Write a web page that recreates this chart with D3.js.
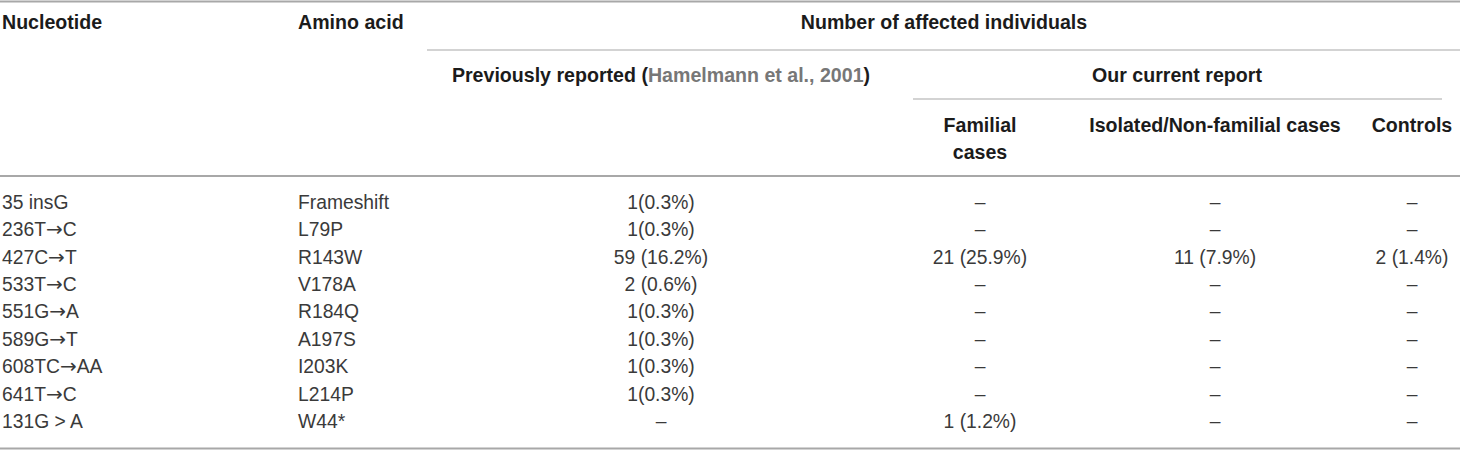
<!DOCTYPE html>
<html>
<head>
<meta charset="utf-8">
<script src="https://cdn.jsdelivr.net/npm/d3@7"></script>
<style>
    html, body { margin: 0; padding: 0; background: #fff; }
</style>
</head>
<body>
<div id="chartContainer"></div>
<script>
const nucleotides = ['35 insG', '236T→C', '427C→T', '533T→C', '551G→A', '589G→T', '608TC→AA', '641T→C', '131G > A'];
const aminoAcids = ['Frameshift', 'L79P', 'R143W', 'V178A', 'R184Q', 'A197S', 'I203K', 'L214P', 'W44*'];
const previouslyReported = ['1(0.3%)', '1(0.3%)', '59 (16.2%)', '2 (0.6%)', '1(0.3%)', '1(0.3%)', '1(0.3%)', '1(0.3%)', '–'];
const familialCases = ['–', '–', '21 (25.9%)', '–', '–', '–', '–', '–', '1 (1.2%)'];
const isolatedCases = ['–', '–', '11 (7.9%)', '–', '–', '–', '–', '–', '–'];
const controls = ['–', '–', '2 (1.4%)', '–', '–', '–', '–', '–', '–'];

const width = 1460;
const height = 451;

const font = '"Liberation Sans", Arial, Helvetica, sans-serif';
const headColor = '#1b1b1b';
const bodyColor = '#3a3a3a';
const ruleColor = '#a8a8a8';

const svg = d3.select('#chartContainer')
    .append('svg')
    .attr('width', width)
    .attr('height', height)
    .style('font-family', font)
    .style('background', '#fff');

// columns: key -> x, anchor
const columns = [
    { key: 'nuc', values: nucleotides, x: 2, anchor: 'start' },
    { key: 'aa', values: aminoAcids, x: 298, anchor: 'start' },
    { key: 'prev', values: previouslyReported, x: 661, anchor: 'middle' },
    { key: 'fam', values: familialCases, x: 980, anchor: 'middle' },
    { key: 'iso', values: isolatedCases, x: 1215, anchor: 'middle' },
    { key: 'ctl', values: controls, x: 1412, anchor: 'middle' }
];

const scY = d3.scaleBand()
    .domain(d3.range(nucleotides.length))
    .range([188.3, 434.9]);

// rules
function rule(x1, x2, y, w) {
    svg.append('line')
        .attr('x1', x1).attr('x2', x2)
        .attr('y1', y).attr('y2', y)
        .attr('stroke', ruleColor)
        .attr('stroke-width', w);
}
rule(0, width, 1.5, 2);
rule(427, width, 50, 1.2);
rule(913, 1442, 99, 1.2);
rule(0, width, 176, 2);
rule(0, width, 448.5, 2);

// header
const head = svg.append('g')
    .attr('font-weight', 'bold')
    .attr('font-size', '19.6px')
    .attr('fill', headColor);

function headText(txt, x, y, anchor) {
    return head.append('text')
        .attr('x', x)
        .attr('y', y)
        .attr('dy', '0.35em')
        .attr('text-anchor', anchor)
        .text(txt);
}

headText('Nucleotide', 2, 22, 'start');
headText('Amino acid', 298, 22, 'start');
headText('Number of affected individuals', 944, 22, 'middle');
headText('Our current report', 1177, 75, 'middle');
headText('Familial', 980, 125, 'middle');
headText('cases', 980, 152, 'middle');
headText('Isolated/Non-familial cases', 1215, 125, 'middle');
headText('Controls', 1412, 125, 'middle');

const prev = headText('', 661, 75, 'middle');
prev.append('tspan').text('Previously reported (');
prev.append('tspan').attr('fill', '#777').text('Hamelmann et al., 2001');
prev.append('tspan').text(')');

// body
const body = svg.append('g')
    .attr('font-size', '19.3px')
    .attr('fill', bodyColor);

columns.forEach(col => {
    body.append('g')
        .attr('class', col.key)
        .selectAll('text')
        .data(col.values)
        .enter()
        .append('text')
        .attr('x', col.x)
        .attr('y', (d, i) => scY(i) + scY.bandwidth() / 2)
        .attr('dy', '0.35em')
        .attr('text-anchor', col.anchor)
        .each(function (d) {
            // the arrow glyph of Liberation is tiny, take it from DejaVu
            const t = d3.select(this);
            d.split(/(→)/).forEach(part => {
                if (part === '→') {
                    t.append('tspan')
                        .attr('font-family', '"DejaVu Sans", sans-serif')
                        .attr('font-size', '20px')
                        .text(part);
                } else if (part) {
                    t.append('tspan').text(part);
                }
            });
        });
});
</script>
</body>
</html>
